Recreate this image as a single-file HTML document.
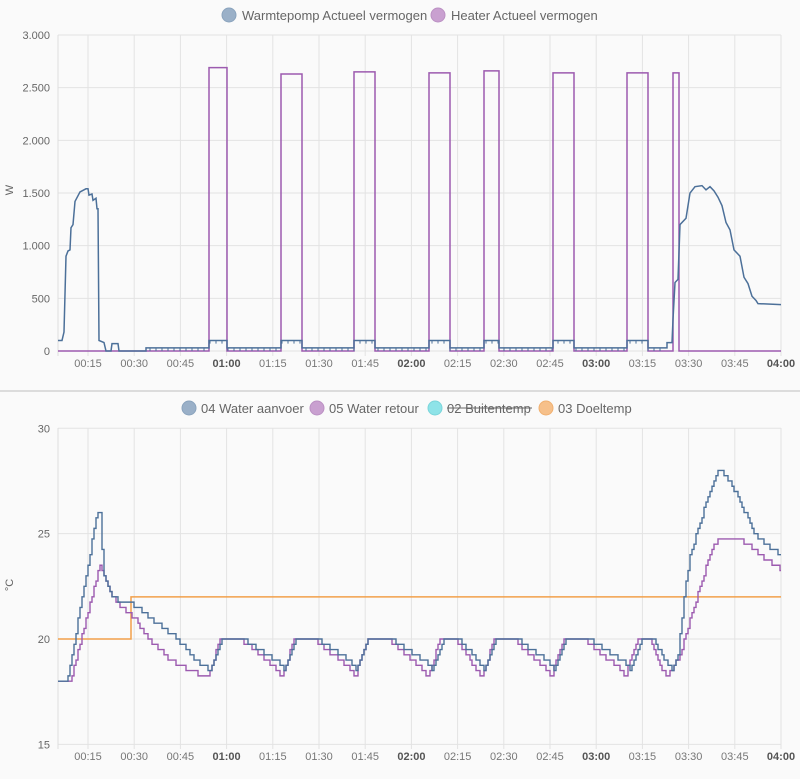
<!DOCTYPE html>
<html><head><meta charset="utf-8"><style>
body{margin:0;background:#fafafa;}
svg text{font-family:"Liberation Sans",sans-serif;}
</style></head><body>
<svg id="s" width="800" height="774" xmlns="http://www.w3.org/2000/svg">
<rect width="800" height="774" fill="#fafafa"/>
<g id="grid"></g>
<line x1="0" y1="391" x2="800" y2="391" stroke="#dcdcdc" stroke-width="2"/>
<circle cx="229" cy="15" r="7" fill="#9ab0c8" stroke="#8aa3bd"/>
<text x="242" y="20" font-size="13" fill="#666">Warmtepomp Actueel vermogen</text>
<circle cx="438" cy="15" r="7" fill="#c9a0d0" stroke="#bb90c3"/>
<text x="451" y="20" font-size="13" fill="#666">Heater Actueel vermogen</text>
<circle cx="189" cy="408" r="7" fill="#9ab0c8" stroke="#8aa3bd"/>
<text x="201" y="413" font-size="13" fill="#666">04 Water aanvoer</text>
<circle cx="317" cy="408" r="7" fill="#c9a0d0" stroke="#bb90c3"/>
<text x="329" y="413" font-size="13" fill="#666">05 Water retour</text>
<circle cx="435" cy="408" r="7" fill="#8ee3e8" stroke="#7ad5da"/>
<text x="447" y="413" font-size="13" fill="#666">02 Buitentemp</text>
<line x1="447" y1="408" x2="532" y2="408" stroke="#666" stroke-width="1"/>
<circle cx="546" cy="408" r="7" fill="#f6c08a" stroke="#f0b070"/>
<text x="558" y="413" font-size="13" fill="#666">03 Doeltemp</text>
<text transform="translate(13,190) rotate(-90)" font-size="11" fill="#666" text-anchor="middle">W</text>
<text transform="translate(13,585) rotate(-90)" font-size="11" fill="#666" text-anchor="middle">°C</text>
<g id="data"></g>
</svg>
<script>
var NS="http://www.w3.org/2000/svg",g=document.getElementById('grid'),d=document.getElementById('data');
function el(p,t,a,txt){var e=document.createElementNS(NS,t);for(var k in a)e.setAttribute(k,a[k]);if(txt!=null)e.textContent=txt;p.appendChild(e);return e;}
var L=58,R=781;
var labs=["00:15","00:30","00:45","01:00","01:15","01:30","01:45","02:00","02:15","02:30","02:45","03:00","03:15","03:30","03:45","04:00"];
function xs(i){return 88+i*46.2;}
var ty0=35,ty1=351;
var wl={0:"0",500:"500",1000:"1.000",1500:"1.500",2000:"2.000",2500:"2.500",3000:"3.000"};
for(var v=0;v<=3000;v+=500){var y=ty1-(v/3000)*(ty1-ty0);el(g,'line',{x1:L,x2:R,y1:y,y2:y,stroke:'#e3e3e3'});el(g,'text',{x:50,y:y+4,'font-size':11,fill:'#666','text-anchor':'end'},wl[v]);}
var by0=428,by1=744;
[30,25,20,15].forEach(function(t){var y=639-(t-20)*21.07;el(g,'line',{x1:L,x2:R,y1:y,y2:y,stroke:'#e3e3e3'});el(g,'text',{x:50,y:y+4,'font-size':11,fill:'#666','text-anchor':'end'},t);});
[ [ty0,ty1,367],[by0,by1,760] ].forEach(function(c){
 el(g,'line',{x1:L,x2:L,y1:c[0],y2:c[1]+5,stroke:'#ddd'});el(g,'line',{x1:R,x2:R,y1:c[0],y2:c[1],stroke:'#e3e3e3'});
 for(var i=0;i<16;i++){var x=xs(i);el(g,'line',{x1:x,x2:x,y1:c[0],y2:c[1]+5,stroke:'#e3e3e3'});
 var b=(labs[i].slice(3)=="00");el(g,'text',{x:x,y:c[2],'font-size':11,fill:b?'#555':'#777','font-weight':b?'bold':'normal','text-anchor':'middle'},labs[i]);}
});
function path(pts,col,w){var s='M'+pts[0][0]+' '+pts[0][1];for(var i=1;i<pts.length;i++)s+='L'+pts[i][0]+' '+pts[i][1];el(d,'path',{d:s,fill:'none',stroke:col,'stroke-width':w||1.4,'stroke-linejoin':'miter'});}
function W(v){return ty1-v*316/3000;}
function T(t){return 639-(t-20)*21.07;}
var hp=[[209,227,2690],[281,302,2630],[354,375,2650],[429,450,2640],[484,499,2660],[553,574,2640],[627,648,2640],[673,679,2640]];
var h=[[L,W(0)]];hp.forEach(function(p){h.push([p[0],W(0)],[p[0],W(p[2])],[p[1],W(p[2])],[p[1],W(0)]);});h.push([R,W(0)]);
path(h,'#9c5aaf',1.5);
function stepsFromKeys(keys,q,dx){var out=[],prev=null;for(var x=keys[0][0];x<=keys[keys.length-1][0];x+=dx){var j=0;while(j<keys.length-2&&keys[j+1][0]<x)j++;var a=keys[j],b=keys[j+1];var t=(x-a[0])/(b[0]-a[0]);if(t<0)t=0;if(t>1)t=1;var v=a[1]+(b[1]-a[1])*t;v=Math.round(v/q)*q;if(prev===null){out.push([x,v]);}else if(v!=prev){out.push([x,prev]);out.push([x,v]);}prev=v;}out.push([keys[keys.length-1][0],prev]);return out;}
var wp=[[L,100],[62,100],[64,180],[66,900],[68,950],[70,960],[71,1170],[73,1200],[75,1420],[80,1510],[86,1540],[88,1540],[89,1480],[92,1490],[93,1430],[96,1450],[97,1350],[98,1350],[99,100],[104,80],[106,0],[111,0],[112,70],[118,70],[119,0],[146,0],[146,30],[209,30],[209,100],[227,100],[227,30],[281,30],[281,100],[302,100],[302,30],[354,30],[354,100],[375,100],[375,30],[429,30],[429,100],[450,100],[450,30],[484,30],[484,100],[499,100],[499,30],[553,30],[553,100],[574,100],[574,30],[627,30],[627,100],[648,100],[648,30],[667,30],[667,80],[672,80],[673,300],[675,650],[678,680],[680,1200],[686,1260],[690,1500],[695,1560],[702,1570],[706,1530],[710,1560],[714,1520],[718,1460],[722,1380],[726,1220],[730,1150],[734,960],[740,900],[744,700],[748,640],[752,520],[756,480],[758,450],[781,440]];
path(wp.map(function(p){return [p[0],W(p[1])];}),'#4c7099',1.5);
for(var x=150;x<665;x+=6){if((x>209&&x<227)||(x>281&&x<302)||(x>354&&x<375)||(x>429&&x<450)||(x>484&&x<499)||(x>553&&x<574)||(x>627&&x<648))el(d,'line',{x1:x,x2:x,y1:W(100),y2:W(70),stroke:'#4c7099'});else el(d,'line',{x1:x,x2:x,y1:W(30),y2:W(0),stroke:'#4c7099'});}
path([[L,T(20)],[131,T(20)],[131,T(22)],[R,T(22)]],'#f2a04a',1.5);
function cycles(mins,lo,hi){var k=[];for(var i=0;i<mins.length-1;i++){var m=mins[i],n=mins[i+1],L2=n-m;k.push([m,lo],[m+12,hi],[m+12+L2*0.28,hi],[n-6,lo+0.4],[n,lo]);}return k;}
var bmin=[211,285,357,432,485,555,630,672];
var pmin=[208,282,355,428,482,551,625,668];
var bk=[[L,18],[66,18],[68,18.2],[97,26],[100,26],[103,23.2],[110,22.2],[118,21.8],[134,21.6],[150,21],[175,20.1],[196,19],[211,18.5]].concat(cycles(bmin,18.5,20).slice(1));
bk=bk.concat([[678,19.3],[684,22],[690,24],[703,26],[714,27.6],[718,28],[726,27.8],[735,27],[745,26],[755,25],[765,24.5],[781,24]]);
var pk=[[L,18],[70,18],[100,23.6],[105,23],[112,22],[122,21.5],[135,21],[148,20],[160,19.5],[170,19],[185,18.6],[200,18.3],[208,18.2]].concat(cycles(pmin,18.2,20).slice(1));
pk=pk.concat([[680,19.3],[697,22],[710,24],[718,24.8],[728,24.8],[745,24.6],[760,24],[775,23.5],[781,23.3]]);
function clean(k){k.sort(function(a,b){return a[0]-b[0];});return k;}
path(stepsFromKeys(clean(pk),0.25,2).map(function(p){return [p[0],T(p[1])];}),'#9c5aaf',1.4);
path(stepsFromKeys(clean(bk),0.25,2).map(function(p){return [p[0],T(p[1])];}),'#4c7099',1.4);
</script>
</body></html>
